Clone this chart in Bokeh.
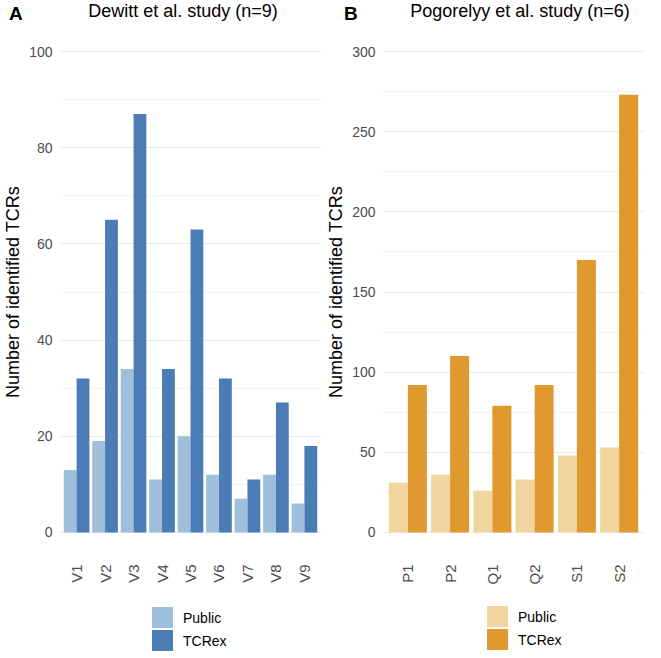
import math
from bokeh.plotting import figure
from bokeh.models import (ColumnDataSource, FactorRange, Range1d,
                          SingleIntervalTicker, Div)
from bokeh.transform import dodge
from bokeh.layouts import row, column
from bokeh.embed import file_html
from bokeh.resources import INLINE

# ---- data ----
dewitt_samples = ["V1", "V2", "V3", "V4", "V5", "V6", "V7", "V8", "V9"]
dewitt_public = [13, 19, 34, 11, 20, 12, 7, 12, 6]
dewitt_tcrex = [32, 65, 87, 34, 63, 32, 11, 27, 18]

pogorelyy_samples = ["P1", "P2", "Q1", "Q2", "S1", "S2"]
pogorelyy_public = [31, 36, 26, 33, 48, 53]
pogorelyy_tcrex = [92, 110, 79, 92, 170, 273]

series_labels = ["Public", "TCRex"]
FONT = "Liberation Sans"
FH = 529
AXW = 52  # approx. width taken by the y axis


def header(letter, title, width, fw, letter_x, title_dx):
    html = (
        f'<div style="position:relative;width:{width}px;height:27px;'
        f'font-family:\'{FONT}\';color:#000;">'
        f'<span style="position:absolute;left:{letter_x}px;top:0px;font-size:19px;'
        f'font-weight:bold;">{letter}</span>'
        f'<span style="position:absolute;left:{AXW + fw // 2 + title_dx}px;top:-1px;'
        f'transform:translateX(-50%);white-space:nowrap;font-size:18px;">{title}</span>'
        f'</div>'
    )
    return Div(text=html, width=width, height=27, margin=0)


def legend_div(width, fw, c_pub, c_tcr, dx, top):
    def item(color, label, mb):
        return (f'<div style="display:flex;align-items:center;height:21px;'
                f'margin-bottom:{mb}px;">'
                f'<span style="display:inline-block;width:21px;height:21px;'
                f'background:{color};"></span>'
                f'<span style="margin-left:10px;font-size:14px;color:#000;">{label}</span>'
                f'</div>')
    html = (
        f'<div style="position:relative;width:{width}px;height:66px;'
        f'font-family:\'{FONT}\';">'
        f'<div style="position:absolute;left:{AXW + fw // 2 - 37 + dx}px;top:{top}px;">'
        + item(c_pub, series_labels[0], 2) + item(c_tcr, series_labels[1], 0) +
        '</div></div>'
    )
    return Div(text=html, width=width, height=66, margin=0)


def panel(cats, pub, tcr, ymax, interval, c_pub, c_tcr, fw):
    src = ColumnDataSource(dict(cat=cats, public=pub, tcrex=tcr))
    p = figure(x_range=FactorRange(factors=cats, range_padding=0.1,
                                   range_padding_units="absolute"),
               y_range=Range1d(-0.05 * ymax, 1.05 * ymax),
               frame_width=fw, frame_height=FH,
               output_backend="svg", toolbar_location=None,
               min_border_left=0, min_border_right=2, min_border_top=0,
               min_border_bottom=0)

    p.vbar(x=dodge("cat", -0.225, range=p.x_range), top="public", width=0.45,
           source=src, fill_color=c_pub, line_color=None)
    p.vbar(x=dodge("cat", 0.225, range=p.x_range), top="tcrex", width=0.45,
           source=src, fill_color=c_tcr, line_color=None)

    p.outline_line_color = None
    p.xgrid.grid_line_color = None
    p.yaxis.ticker = SingleIntervalTicker(interval=interval, num_minor_ticks=2)
    p.ygrid.grid_line_color = "#ebebeb"
    p.ygrid.grid_line_width = 1
    p.ygrid.minor_grid_line_color = "#f3f3f3"
    p.ygrid.minor_grid_line_width = 1

    for ax in (p.xaxis, p.yaxis):
        ax.axis_line_color = None
        ax.major_tick_line_color = None
        ax.minor_tick_line_color = None
        ax.major_tick_out = 0
        ax.major_tick_in = 0
        ax.minor_tick_out = 0
        ax.minor_tick_in = 0
        ax.major_label_text_color = "#4d4d4d"
        ax.major_label_text_font = FONT

    p.yaxis.major_label_text_font_size = "14px"
    p.yaxis.major_label_standoff = 7
    p.yaxis.axis_label = "Number of identified TCRs"
    p.yaxis.axis_label_text_font = FONT
    p.yaxis.axis_label_text_font_size = "18px"
    p.yaxis.axis_label_text_font_style = "normal"
    p.yaxis.axis_label_text_color = "#000000"
    p.yaxis.axis_label_standoff = 3

    p.xaxis.major_label_text_font_size = "15px"
    p.xaxis.major_label_orientation = math.pi / 2
    p.xaxis.major_label_standoff = 8
    return p


FW1, FW2 = 262, 262
left = panel(dewitt_samples, dewitt_public, dewitt_tcrex, 100, 20,
             "#9fbfdc", "#4b7cb6", FW1)
right = panel(pogorelyy_samples, pogorelyy_public, pogorelyy_tcrex, 300, 50,
              "#f0d59f", "#df992e", FW2)

W1, W2 = AXW + FW1 + 2, AXW + FW2 + 2
left_col = column(header("A", "Dewitt et al. study (n=9)", W1, FW1, 9, 0), left,
                  legend_div(W1, FW1, "#9fbfdc", "#4b7cb6", 6, 22), spacing=0)
right_col = column(header("B", "Pogorelyy et al. study (n=6)", W2, FW2, 21, 14), right,
                   legend_div(W2, FW2, "#f0d59f", "#df992e", 18, 19), spacing=0)

layout = row(left_col, right_col, spacing=0)
open("out.html", "w").write(file_html(layout, INLINE))
